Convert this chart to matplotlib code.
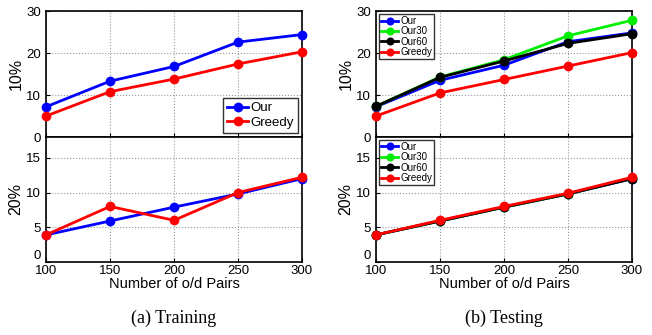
import matplotlib
matplotlib.use('Agg')
import matplotlib.pyplot as plt

plt.rcParams['font.family'] = ['Liberation Sans', 'DejaVu Sans']

pairs = [100, 150, 200, 250, 300]

# (a) Training
train10_our = [7.2, 13.3, 16.8, 22.6, 24.4]
train10_greedy = [5.0, 10.8, 13.8, 17.4, 20.3]
train20_our = [3.9, 5.9, 7.9, 9.8, 12.0]
train20_greedy = [3.9, 8.0, 6.0, 10.0, 12.2]

# (b) Testing
test10_our = [7.2, 13.5, 17.1, 22.7, 24.8]
test10_our30 = [7.3, 14.3, 18.4, 24.1, 27.8]
test10_our60 = [7.3, 14.2, 18.1, 22.3, 24.6]
test10_greedy = [5.0, 10.5, 13.7, 16.9, 20.1]
test20_our = [3.9, 5.9, 7.9, 9.8, 12.0]
test20_our30 = [3.9, 5.9, 7.9, 9.8, 12.1]
test20_our60 = [3.9, 5.9, 7.9, 9.8, 12.0]
test20_greedy = [3.9, 6.0, 8.0, 9.9, 12.2]

fig = plt.figure(figsize=(6.52, 3.35), dpi=100)

W = 0.3926
top_b, top_h = 0.591, 0.376
bot_b, bot_h = 0.218, 0.373


def style(ax, ylim, yticks):
    ax.set_xlim(100, 300)
    ax.set_ylim(*ylim)
    ax.set_xticks(pairs)
    ax.set_yticks(yticks)
    ax.grid(True, linestyle=':', color='#999999', linewidth=0.8)
    ax.tick_params(direction='in', labelsize=9.5, length=3)
    for s in ax.spines.values():
        s.set_linewidth(1.2)


def line(ax, y, c, lab):
    ax.plot(pairs, y, '-o', color=c, lw=2, ms=6, label=lab, clip_on=False, zorder=3)


panels = [
    (0.0706, [(train10_our, 'b', 'Our'), (train10_greedy, 'r', 'Greedy')],
     [(train20_our, 'b', 'Our'), (train20_greedy, 'r', 'Greedy')], '(a) Training'),
    (0.5767, [(test10_our, 'b', 'Our'), (test10_our30, '#00ee00', 'Our30'),
              (test10_our60, 'k', 'Our60'), (test10_greedy, 'r', 'Greedy')],
     [(test20_our, 'b', 'Our'), (test20_our30, '#00ee00', 'Our30'),
      (test20_our60, 'k', 'Our60'), (test20_greedy, 'r', 'Greedy')], '(b) Testing'),
]

for i, (left, top_series, bot_series, caption) in enumerate(panels):
    ax1 = fig.add_axes([left, top_b, W, top_h])
    for y, c, lab in top_series:
        line(ax1, y, c, lab)
    style(ax1, (0, 30), [0, 10, 20, 30])
    ax1.set_xticklabels([])
    ax1.set_ylabel('10%', fontsize=11.5, labelpad=2)

    ax2 = fig.add_axes([left, bot_b, W, bot_h])
    for y, c, lab in bot_series:
        line(ax2, y, c, lab)
    style(ax2, (0, 18), [0, 5, 10, 15])
    ax2.set_ylabel('20%', fontsize=11.5, labelpad=2)
    ax2.set_xlabel('Number of o/d Pairs', fontsize=10.5, labelpad=0)
    ax2.tick_params(axis='x', pad=2)
    # the 0 label sits just above the corner, as in the original
    ax2.get_yticklabels()[0].set_verticalalignment('bottom')

    if i == 0:
        leg = ax1.legend(loc='lower right', fontsize=9.5, handlelength=1.6,
                         fancybox=False, edgecolor='k', borderpad=0.3,
                         handletextpad=0.2, labelspacing=0.2, borderaxespad=0.3)
        leg.get_frame().set_linewidth(1.0)
    else:
        for ax in (ax1, ax2):
            leg = ax.legend(loc='upper left', fontsize=7, handlelength=1.8,
                            fancybox=False, edgecolor='k', borderpad=0.2,
                            handletextpad=0.2, labelspacing=0.05, borderaxespad=0.3,
                            markerscale=0.8)
            leg.get_frame().set_linewidth(1.0)

    fig.text(left + W / 2, 0.05, caption, ha='center', va='center',
             fontsize=13, family=['Liberation Serif', 'DejaVu Serif'])

fig.savefig('out.png', dpi=100)
